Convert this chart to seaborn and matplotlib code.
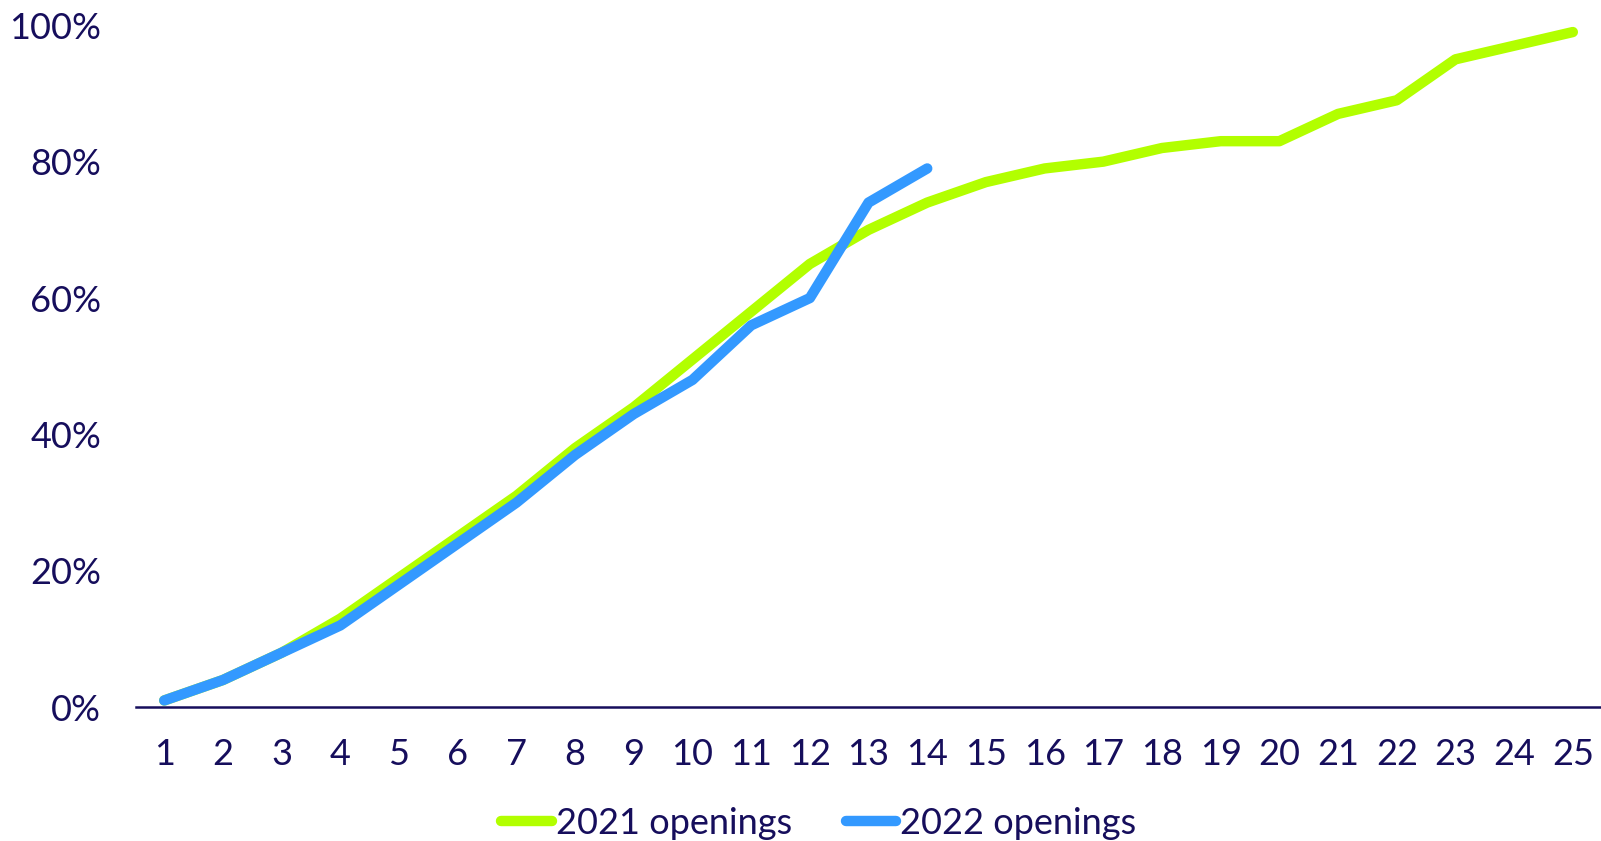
import matplotlib
matplotlib.use("Agg")
import matplotlib.pyplot as plt
import seaborn as sns
import pandas as pd

# Cumulative share of openings by week
weeks_2021 = list(range(1, 26))
share_2021 = [1, 4, 8, 13, 19, 25, 31, 38, 44, 51, 58, 65, 70, 74, 77, 79, 80, 82, 83, 83, 87, 89, 95, 97, 99]
weeks_2022 = list(range(1, 15))
share_2022 = [1, 4, 8, 12, 18, 24, 30, 37, 43, 48, 56, 60, 74, 79]

series_names = ["2021 openings", "2022 openings"]
series_colors = ["#b2ff00", "#3399ff"]
y_ticks = [0, 20, 40, 60, 80, 100]

navy = "#160e5c"

sns.set_theme(style="white")
plt.rcParams["font.family"] = ["Lato", "DejaVu Sans"]

df = pd.concat([
    pd.DataFrame({"week": weeks_2021, "share": share_2021, "series": series_names[0]}),
    pd.DataFrame({"week": weeks_2022, "share": share_2022, "series": series_names[1]}),
])

fig = plt.figure(figsize=(16.01, 8.41), dpi=100)
ax = fig.add_axes([0.085, 0.159, 0.915, 0.811])

sns.lineplot(data=df, x="week", y="share", hue="series", palette=series_colors,
             hue_order=series_names, linewidth=7.5, ax=ax, legend=True)
for line in ax.lines:
    line.set_solid_capstyle("round")
    line.set_solid_joinstyle("round")
    line.set_clip_on(False)

ax.set_xlim(0.52, 25.48)
ax.set_ylim(0, 100)
ax.set_xticks(weeks_2021)
ax.set_xticklabels([str(w) for w in weeks_2021])
ax.set_yticks(y_ticks)
ax.set_yticklabels([f"{t}%" for t in y_ticks])
ax.tick_params(axis="both", length=0, labelsize=26, colors=navy)
ax.tick_params(axis="y", pad=25)
ax.tick_params(axis="x", pad=22)
ax.set_xlabel("")
ax.set_ylabel("")
ax.grid(False)
for side in ["left", "right", "top"]:
    ax.spines[side].set_visible(False)
ax.spines["bottom"].set_color(navy)
ax.spines["bottom"].set_linewidth(1.8)

handles, labels = ax.get_legend_handles_labels()
for h in handles:
    h.set_linewidth(7.5)
    h.set_solid_capstyle("round")
leg = ax.legend(handles, labels, loc="center", bbox_to_anchor=(0.466, -0.17),
                ncol=2, frameon=False, fontsize=26, handlelength=1.4,
                handletextpad=0.1, columnspacing=1.5)
for t in leg.get_texts():
    t.set_color(navy)

fig.savefig("out.png", dpi=100, facecolor="white")
